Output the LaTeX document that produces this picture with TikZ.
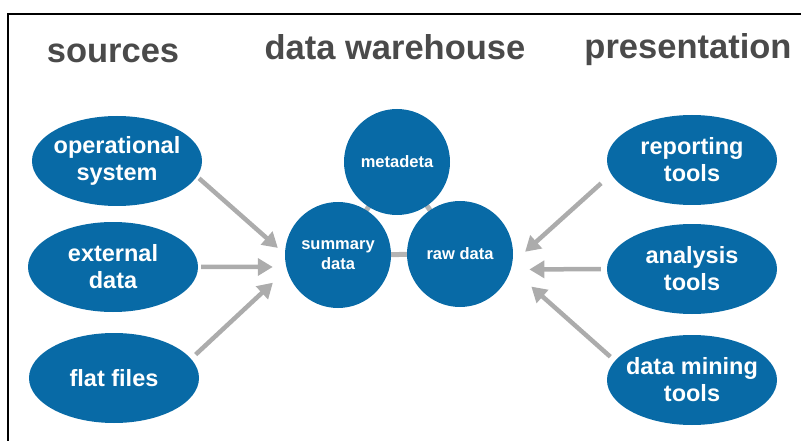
\documentclass[tikz,border=0pt]{standalone}
\usepackage{fontspec}
\setmainfont{Liberation Sans}
\usetikzlibrary{arrows.meta,shapes.geometric,backgrounds}
\definecolor{dwblue}{RGB}{8,106,166}
\definecolor{arrgray}{RGB}{172,172,172}
\definecolor{linegray}{RGB}{180,180,180}
\definecolor{titlegray}{RGB}{74,74,74}
\begin{document}
\begin{tikzpicture}[x=1pt,y=-1pt,
  title/.style={font=\bfseries\fontsize{34.5}{40}\selectfont, text=titlegray, anchor=base, inner sep=0pt},
  ell/.style={ellipse, fill=dwblue, minimum width=170pt, minimum height=90pt, inner sep=-12pt,
    text=white, align=center, font=\bfseries\fontsize{23.5}{27}\selectfont},
  circ/.style={circle, fill=dwblue, minimum size=106pt, inner sep=0pt,
    text=white, align=center, font=\bfseries\fontsize{16.5}{20}\selectfont},
  arr/.style={draw=arrgray, line width=4.5pt, -{Triangle[length=15pt,width=17pt]}},
  link/.style={draw=linegray, line width=5pt}]
\useasboundingbox (0,0) rectangle (801,441);
\draw[line width=1.3pt] (8,441) -- (8,14) -- (801,14);

% titles
\node[title] (tsrc) at (113,63) {sources};
\node[title] (tdw) at (395,60) {data warehouse};
\node[title] (tpres) at (688,59) {presentation};

% sources
\node[ell] (op) at (117,161) {operational\\system};
\node[ell] (ext) at (113,267) {external\\data};
\node[ell] (flat) at (114,378) {flat files};

% presentation
\node[ell] (rep) at (692,160) {reporting\\tools};
\node[ell] (ana) at (692,269) {analysis\\tools};
\node[ell] (dm) at (692,380) {data mining\\tools};

% warehouse
\node[circ] (meta) at (397,162) {metadeta};
\node[circ] (summ) at (338,255) {summary\\data};
\node[circ] (raw) at (460,254) {raw data};

\begin{scope}[on background layer]
  \draw[link] (meta.center) -- (summ.center);
  \draw[link] (meta.center) -- (raw.center);
  \draw[link] (summ.center) -- (raw.center);
\end{scope}

% arrows in
\draw[arr, shorten <=2.7pt, shorten >=9.3pt] (op.-11.6) -- (summ.179);
\draw[arr, shorten <=3pt, shorten >=13.4pt] (ext.0) -- (summ.193.1);
\draw[arr, shorten <=6.2pt, shorten >=19.1pt] (flat.14.8) -- (summ.196.8);

% arrows out
\draw[arr, shorten <=13.5pt, shorten >=17.1pt] (rep.190.8) -- (raw.-10);
\draw[arr, shorten <=6pt, shorten >=18.5pt] (ana.180) -- (raw.-17.6);
\draw[arr, shorten <=6.1pt, shorten >=27pt] (dm.166.9) -- (raw.-16.6);
\end{tikzpicture}
\end{document}
